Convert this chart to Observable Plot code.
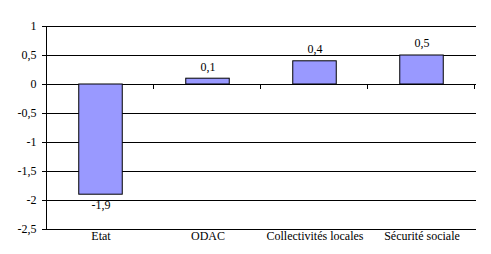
<!DOCTYPE html>
<html>
<head>
<meta charset="utf-8">
<script src="https://cdn.jsdelivr.net/npm/d3@7"></script>
<script src="https://cdn.jsdelivr.net/npm/@observablehq/plot@0.6"></script>
<style>
  html, body { margin: 0; padding: 0; background: white; }
  svg, svg text { font-family: "Liberation Serif", "Times New Roman", serif !important; }
</style>
</head>
<body>
<div id="chart"></div>
<script>
const categories = ["Etat", "ODAC", "Collectivités locales", "Sécurité sociale"];
const values = [-1.9, 0.1, 0.4, 0.5];
const yTicks = [-2.5, -2, -1.5, -1, -0.5, 0, 0.5, 1];

const data = categories.map((c, i) => ({cat: c, value: values[i]}));
const fmt = v => String(v).replace(".", ",");

// custom mark: gridlines, left axis line, tick marks at category boundaries on the zero line
function frameLines(index, scales, values, dims) {
  const g = d3.create("svg:g").attr("stroke", "#000").attr("stroke-width", 1).attr("shape-rendering", "crispEdges");
  const x0 = dims.marginLeft, x1 = dims.width - dims.marginRight;
  for (const t of yTicks) {
    const y = Math.round(scales.y(t)) + 0.5;
    g.append("line").attr("x1", x0).attr("x2", x1).attr("y1", y).attr("y2", y);
  }
  const yTop = Math.round(scales.y(yTicks[yTicks.length - 1])) + 0.5;
  const yBot = Math.round(scales.y(yTicks[0])) + 0.5;
  g.append("line").attr("x1", x0 + 0.5).attr("x2", x0 + 0.5).attr("y1", yTop).attr("y2", yBot);
  const y0 = Math.round(scales.y(0)) + 0.5;
  for (const c of categories) {
    const xb = Math.round(scales.x(c) + scales.x.bandwidth()) - 0.5;
    g.append("line").attr("x1", xb).attr("x2", xb).attr("y1", y0).attr("y2", y0 + 4);
  }
  return g.node();
}

const chart = Plot.plot({
  width: 491,
  height: 254,
  marginLeft: 46,
  marginRight: 15,
  marginTop: 26,
  marginBottom: 25,
  style: {fontFamily: "Liberation Serif", fontSize: "12px", background: "white", color: "black"},
  x: {domain: categories, padding: 0, label: null},
  y: {domain: [-2.5, 1], label: null},
  marks: [
    frameLines,
    Plot.barY(data, {x: "cat", y: "value", fill: "#9999FF", stroke: "black", insetLeft: 31.75, insetRight: 31.75}),
    Plot.axisY({ticks: yTicks, tickFormat: fmt, tickSize: 4, tickPadding: 6, label: null, fontSize: 12, stroke: "black"}),
    Plot.axisX({tickSize: 0, tickPadding: 2, label: null, fontSize: 12}),
    Plot.text(data.filter(d => d.value >= 0), {x: "cat", y: "value", text: d => fmt(d.value), dy: -12, fontSize: 12}),
    Plot.text(data.filter(d => d.value < 0), {x: "cat", y: "value", text: d => fmt(d.value), dy: 10, fontSize: 12})
  ]
});
document.getElementById("chart").appendChild(chart);
</script>
</body>
</html>
